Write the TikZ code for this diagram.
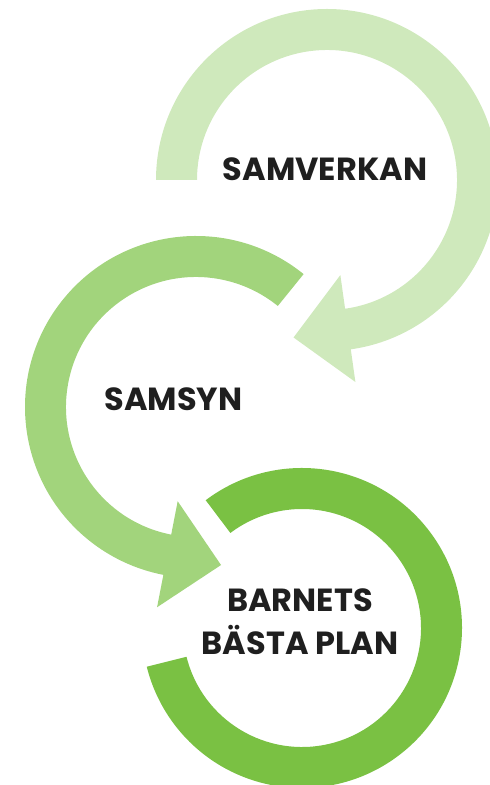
\documentclass[tikz,border=0pt]{standalone}
\usepackage{fontspec}
\setmainfont{Poppins}
\definecolor{gA}{HTML}{CFE9BC}
\definecolor{gB}{HTML}{A2D47C}
\definecolor{gC}{HTML}{7AC143}
\tikzset{
  lbl/.style={font=\fontsize{32}{43}\selectfont\bfseries, text=black!88, align=center, inner sep=0pt},
}
\begin{document}
\begin{tikzpicture}[x=1pt,y=1pt]
\useasboundingbox (0,0) rectangle (490,785);
\clip (0,0) rectangle (490,785);
% centres
\coordinate (c1) at (327,605);
\coordinate (c2) at (196,378);
\coordinate (c3) at (302,157);
% arc 1 (SAMVERKAN)
\fill[gA] ([shift={(180:171)}]c1) arc[start angle=180, end angle=-82, radius=171]
  -- ([shift={(-82:204)}]c1) -- ([shift={(-102:161)}]c1) -- ([shift={(-82:96)}]c1)
  -- ([shift={(-82:130)}]c1) arc[start angle=-82, end angle=180, radius=130] -- cycle;
% arc 2 (SAMSYN)
\fill[gB] ([shift={(51:171)}]c2) arc[start angle=51, end angle=259, radius=171]
  -- ([shift={(259:204)}]c2) -- ([shift={(279:160)}]c2) -- ([shift={(259:96)}]c2)
  -- ([shift={(259:130)}]c2) arc[start angle=259, end angle=51, radius=130] -- cycle;
% arc 3 (BARNETS BASTA PLAN)
\fill[gC] ([shift={(127:160)}]c3) arc[start angle=127, end angle=-166, radius=160]
  -- ([shift={(-166:119)}]c3) arc[start angle=-166, end angle=127, radius=119] -- cycle;
% labels
\node[lbl] (t1) at (325,616) {SAMVERKAN};
\node[lbl] (t2) at (173.5,386) {SAMSYN};
\node[lbl] (t3) at (300,163) {BARNETS\\BÄSTA PLAN};
\end{tikzpicture}
\end{document}
